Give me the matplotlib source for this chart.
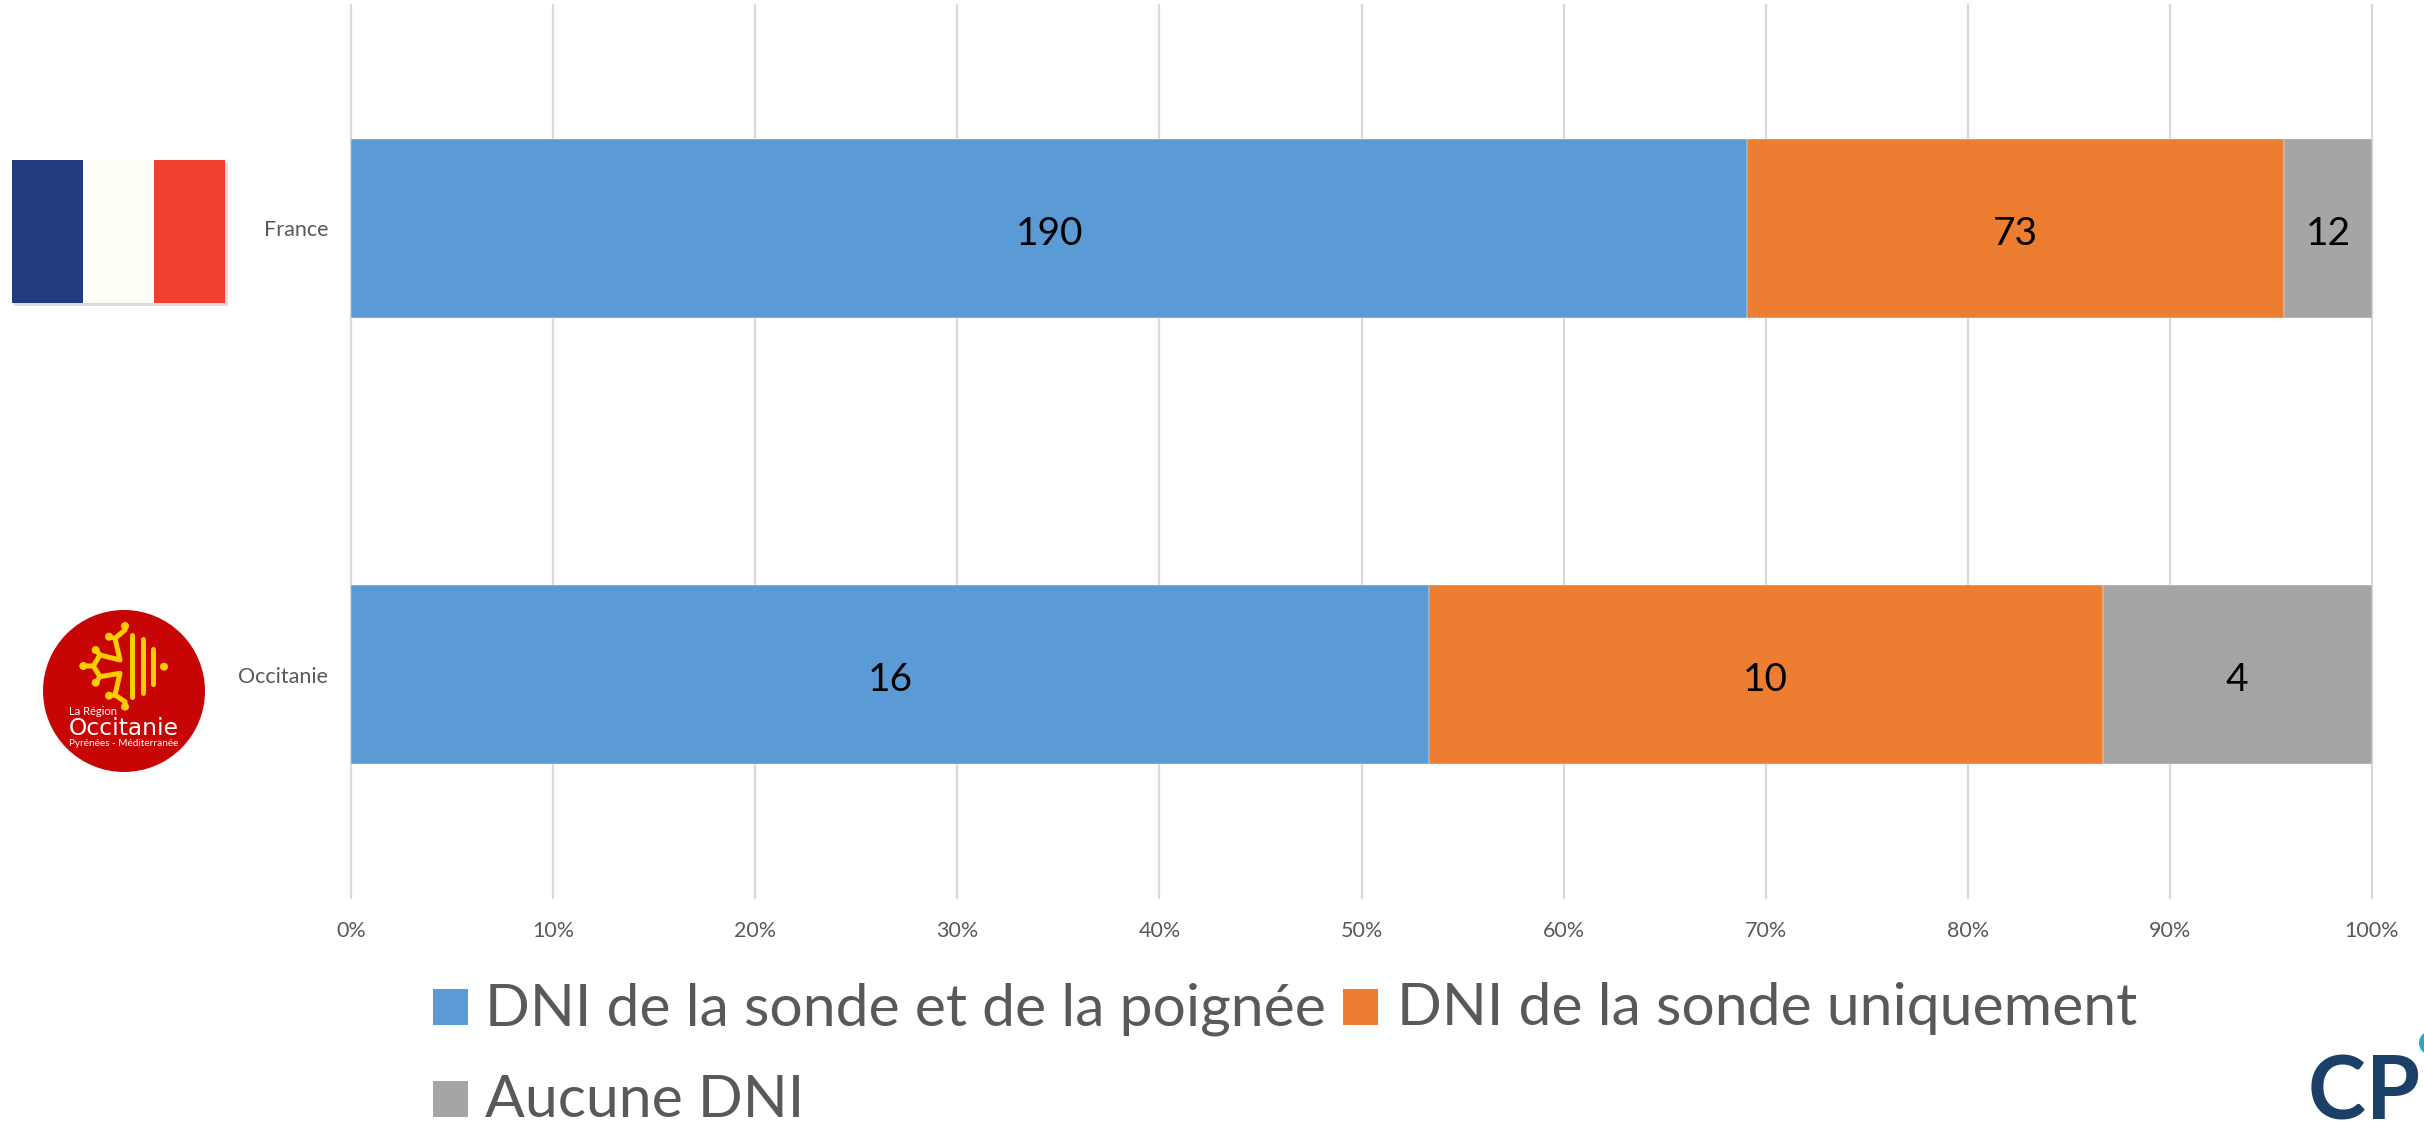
import matplotlib
matplotlib.use("Agg")
import matplotlib.pyplot as plt
from matplotlib.patches import Rectangle, Circle
import numpy as np

plt.rcParams['font.family'] = ['Lato', 'DejaVu Sans']

categories = ["France", "Occitanie"]
series_names = ["DNI de la sonde et de la poignée", "DNI de la sonde uniquement", "Aucune DNI"]
both_counts = [190, 16]
probe_counts = [73, 10]
none_counts = [12, 4]
xticks = [0, 10, 20, 30, 40, 50, 60, 70, 80, 90, 100]
colors = ["#5B9BD5", "#ED7D31", "#A5A5A5"]
GREY = "#595959"

W, H = 2424, 1121
fig = plt.figure(figsize=(W / 100, H / 100), dpi=100, facecolor="white")
ax = fig.add_axes([351 / W, 1 - 898 / H, (2372 - 351) / W, (898 - 5) / H])

counts = np.array([both_counts, probe_counts, none_counts], dtype=float)
totals = counts.sum(axis=0)
shares = counts / totals * 100
ypos = np.arange(len(categories))
left = np.zeros(len(categories))
for vals, cnt, col, name in zip(shares, counts, colors, series_names):
    ax.barh(ypos, vals, left=left, height=0.4, color=col, label=name,
            edgecolor="white", linewidth=0.25)
    for y, v, l, c in zip(ypos, vals, left, cnt):
        ax.annotate(f"{int(c)}", (l + v / 2, y), xytext=(0, -4), textcoords="offset points",
                    ha="center", va="center", fontsize=28, color="black")
    left += vals

ax.set_xlim(0, 100)
ax.set_ylim(1.5, -0.5)
ax.set_yticks(ypos, categories)
ax.set_xticks(xticks, [f"{t}%" for t in xticks])
ax.tick_params(axis="both", length=0, labelcolor=GREY)
ax.tick_params(axis="x", labelsize=15.5, pad=16.5)
ax.tick_params(axis="y", labelsize=15.5, pad=16.5)
ax.grid(axis="x", color="#D9D9D9", linewidth=1.6, clip_on=False)
ax.set_axisbelow(True)
for s in ax.spines.values():
    s.set_visible(False)

# Overlay in reference pixel coordinates for legend and logos
ov = fig.add_axes([0, 0, 1, 1], facecolor="none")
ov.set_xlim(0, W)
ov.set_ylim(H, 0)
ov.axis("off")

# Legend
legend_rows = [(433, 485, 1025), (1343, 1397, 1025), (433, 485, 1117)]
for (sx, tx, base), name, col in zip(legend_rows, series_names, colors):
    ov.add_patch(Rectangle((sx, base - 36), 35, 36, color=col, lw=0))
    ov.text(tx, base, name, fontsize=42.4, color=GREY, ha="left", va="baseline")

# French flag
ov.add_patch(Rectangle((14, 163), 214, 143, color="#DCDCDA", lw=0))
for i, c in enumerate(["#213C7E", "#FFFEF6", "#F04030"]):
    ov.add_patch(Rectangle((12 + i * 71, 160), 71, 143, color=c, lw=0))

# Occitanie logo
ZX = lambda x: x / 3
ZY = lambda y: 580 + y / 3
ov.add_patch(Circle((124, 691), 81, color="#C70505", lw=0))
YEL = "#FFCC00"
paths = [
    [(375, 138), (375, 150), (345, 175), (327, 170)],
    [(345, 175), (360, 240), (300, 225), (287, 210)],
    [(300, 225), (280, 258), (250, 258)],
    [(280, 258), (300, 290), (287, 308)],
    [(300, 290), (360, 280), (345, 345), (327, 347)],
    [(345, 345), (375, 365), (375, 380)],
    [(397, 165), (397, 352)],
    [(428, 178), (428, 340)],
    [(460, 208), (460, 312)],
]
for p in paths:
    ov.plot([ZX(a) for a, b in p], [ZY(b) for a, b in p], color=YEL, lw=3.6,
            solid_capstyle="round", solid_joinstyle="round")
for (a, b) in [(375, 138), (327, 170), (287, 210), (250, 258), (287, 308),
               (327, 347), (375, 380), (492, 260)]:
    ov.add_patch(Circle((ZX(a), ZY(b)), 4, color=YEL, lw=0))
ov.text(69, ZY(406), "La Région", color="white", fontsize=8, ha="left", va="baseline")
ov.text(69, ZY(465), "Occitanie", color="white", fontsize=16.8, family="DejaVu Sans", ha="left", va="baseline")
ov.text(69, ZY(498), "Pyrénées - Méditerranée", color="white", fontsize=7.2, ha="left", va="baseline")

# CP logo, cut by the image edge
ov.text(2308, 1119, "C", color="#1B3F66", fontsize=63, fontweight="bold",
        ha="left", va="baseline", clip_on=False)
ov.text(2366, 1119, "P", color="#1B3F66", fontsize=63, fontweight="bold",
        ha="left", va="baseline", clip_on=False)
ov.add_patch(Circle((2431, 1043), 12, color="#2AA9C4", lw=0, clip_on=True))

fig.savefig("out.png", dpi=100)
